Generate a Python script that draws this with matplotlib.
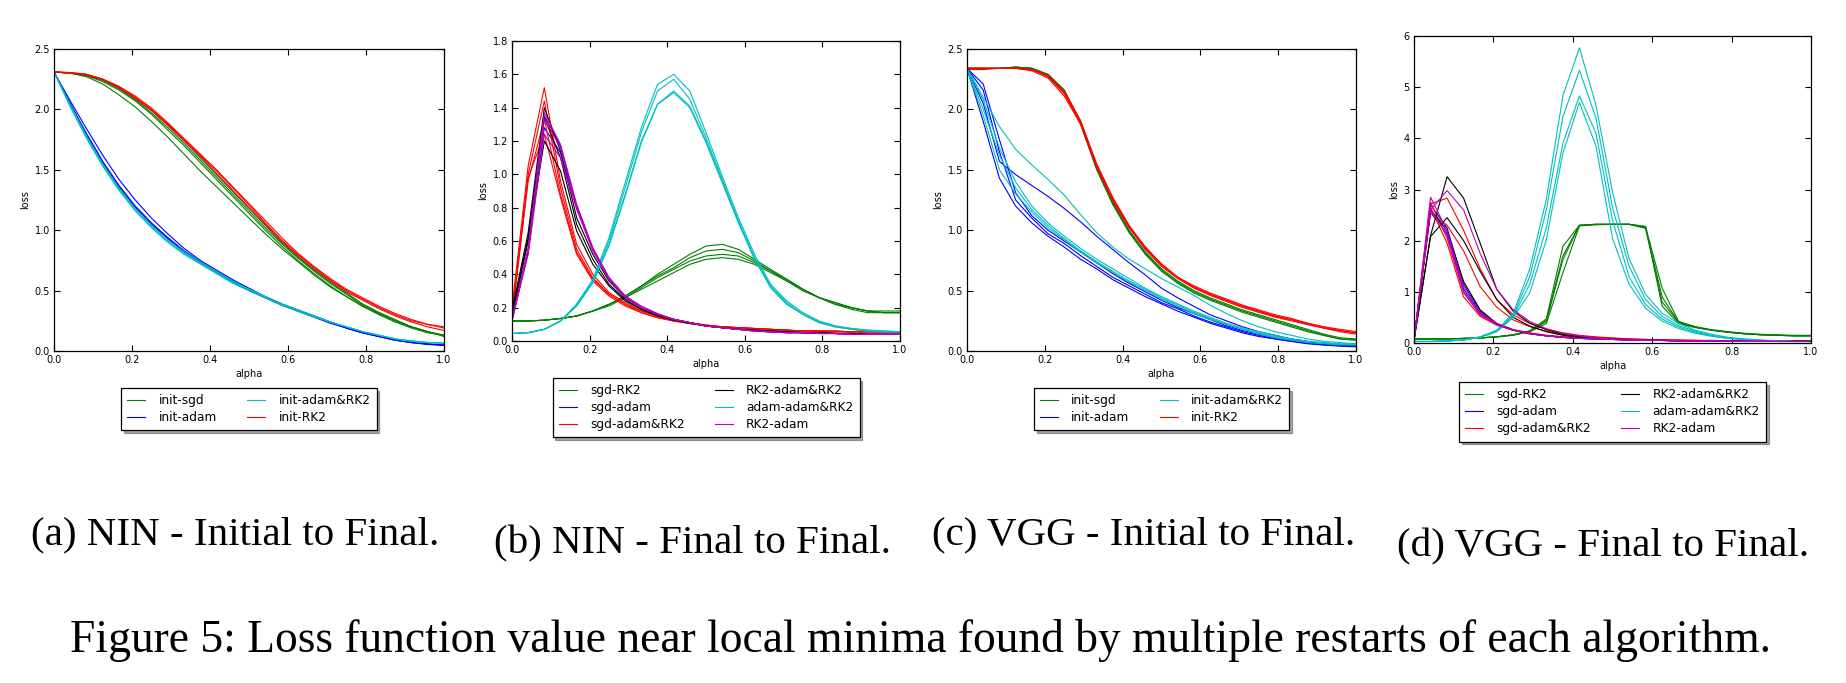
import numpy as np
import matplotlib
matplotlib.use("Agg")
import matplotlib.pyplot as plt
from matplotlib.ticker import FormatStrFormatter

# alpha grid (25 evaluation points between the two solutions)
alpha = np.linspace(0, 1, 25)

# ---- (a) NIN - initial to final ----
a_sgd = [
    [2.31, 2.30, 2.27, 2.21, 2.12, 2.02, 1.90, 1.77, 1.63, 1.49, 1.36, 1.23, 1.10, 0.97, 0.85, 0.74, 0.63, 0.53, 0.45, 0.37, 0.30, 0.24, 0.19, 0.15, 0.13],
    [2.31, 2.30, 2.28, 2.23, 2.16, 2.07, 1.96, 1.83, 1.70, 1.56, 1.42, 1.28, 1.14, 1.00, 0.87, 0.75, 0.64, 0.54, 0.45, 0.37, 0.31, 0.25, 0.20, 0.16, 0.13],
    [2.31, 2.30, 2.28, 2.24, 2.17, 2.08, 1.97, 1.85, 1.72, 1.58, 1.44, 1.30, 1.16, 1.02, 0.89, 0.77, 0.66, 0.56, 0.47, 0.38, 0.31, 0.25, 0.20, 0.16, 0.13],
    [2.31, 2.30, 2.29, 2.25, 2.18, 2.09, 1.99, 1.87, 1.74, 1.60, 1.46, 1.32, 1.18, 1.04, 0.90, 0.78, 0.67, 0.57, 0.48, 0.39, 0.32, 0.26, 0.20, 0.16, 0.12],
]
a_adam = [
    [2.31, 2.05, 1.80, 1.57, 1.37, 1.20, 1.06, 0.94, 0.83, 0.74, 0.66, 0.58, 0.51, 0.45, 0.39, 0.34, 0.29, 0.24, 0.19, 0.15, 0.12, 0.09, 0.07, 0.055, 0.05],
    [2.31, 2.07, 1.84, 1.62, 1.42, 1.25, 1.10, 0.97, 0.85, 0.75, 0.67, 0.59, 0.52, 0.45, 0.39, 0.34, 0.29, 0.24, 0.19, 0.15, 0.12, 0.09, 0.07, 0.06, 0.05],
    [2.31, 2.04, 1.79, 1.56, 1.36, 1.19, 1.05, 0.93, 0.82, 0.73, 0.65, 0.57, 0.50, 0.44, 0.38, 0.33, 0.28, 0.23, 0.19, 0.15, 0.12, 0.09, 0.07, 0.055, 0.045],
]
a_adam_rk2 = [
    [2.31, 2.03, 1.77, 1.54, 1.34, 1.17, 1.03, 0.91, 0.81, 0.73, 0.65, 0.57, 0.51, 0.45, 0.39, 0.34, 0.29, 0.24, 0.20, 0.16, 0.13, 0.10, 0.08, 0.07, 0.065],
    [2.31, 2.02, 1.76, 1.53, 1.33, 1.16, 1.02, 0.90, 0.80, 0.72, 0.64, 0.56, 0.50, 0.44, 0.38, 0.33, 0.28, 0.24, 0.20, 0.16, 0.13, 0.10, 0.08, 0.07, 0.065],
    [2.31, 2.04, 1.78, 1.55, 1.35, 1.18, 1.04, 0.92, 0.82, 0.74, 0.66, 0.58, 0.51, 0.45, 0.39, 0.34, 0.29, 0.24, 0.20, 0.16, 0.13, 0.10, 0.085, 0.07, 0.065],
]
a_rk2 = [
    [2.31, 2.305, 2.29, 2.25, 2.19, 2.10, 2.00, 1.88, 1.75, 1.62, 1.49, 1.35, 1.21, 1.06, 0.92, 0.80, 0.69, 0.59, 0.50, 0.43, 0.36, 0.30, 0.25, 0.22, 0.19],
    [2.31, 2.30, 2.285, 2.245, 2.18, 2.09, 1.99, 1.87, 1.74, 1.61, 1.47, 1.33, 1.19, 1.05, 0.91, 0.79, 0.68, 0.58, 0.49, 0.42, 0.35, 0.29, 0.24, 0.20, 0.17],
    [2.31, 2.305, 2.29, 2.25, 2.19, 2.11, 2.01, 1.89, 1.76, 1.63, 1.50, 1.36, 1.22, 1.08, 0.94, 0.81, 0.70, 0.60, 0.51, 0.44, 0.37, 0.31, 0.26, 0.22, 0.20],
]

# ---- (b) NIN - final to final ----
b_sgd_rk2 = [
    [0.12, 0.12, 0.125, 0.135, 0.15, 0.18, 0.22, 0.27, 0.33, 0.40, 0.46, 0.52, 0.57, 0.58, 0.55, 0.49, 0.43, 0.37, 0.31, 0.26, 0.23, 0.20, 0.18, 0.18, 0.18],
    [0.12, 0.12, 0.125, 0.135, 0.15, 0.18, 0.22, 0.27, 0.33, 0.39, 0.44, 0.50, 0.54, 0.55, 0.53, 0.48, 0.42, 0.37, 0.31, 0.26, 0.23, 0.20, 0.18, 0.17, 0.17],
    [0.12, 0.12, 0.125, 0.135, 0.15, 0.18, 0.22, 0.26, 0.32, 0.38, 0.43, 0.48, 0.51, 0.52, 0.51, 0.47, 0.42, 0.36, 0.31, 0.26, 0.22, 0.20, 0.18, 0.17, 0.17],
    [0.12, 0.12, 0.125, 0.135, 0.15, 0.18, 0.21, 0.26, 0.31, 0.36, 0.41, 0.46, 0.49, 0.50, 0.49, 0.46, 0.41, 0.36, 0.30, 0.26, 0.22, 0.19, 0.17, 0.17, 0.17],
]
b_sgd_adam = [
    [0.13, 0.55, 1.35, 1.17, 0.81, 0.55, 0.38, 0.27, 0.20, 0.16, 0.13, 0.11, 0.09, 0.08, 0.07, 0.06, 0.055, 0.05, 0.05, 0.045, 0.045, 0.04, 0.04, 0.04, 0.04],
    [0.12, 0.53, 1.28, 1.13, 0.80, 0.55, 0.37, 0.27, 0.20, 0.16, 0.13, 0.11, 0.09, 0.08, 0.07, 0.06, 0.055, 0.05, 0.05, 0.045, 0.045, 0.04, 0.04, 0.04, 0.04],
]
b_sgd_adam_rk2 = [
    [0.20, 1.05, 1.52, 0.96, 0.58, 0.40, 0.29, 0.23, 0.18, 0.15, 0.125, 0.11, 0.095, 0.085, 0.08, 0.075, 0.07, 0.065, 0.06, 0.06, 0.055, 0.055, 0.055, 0.055, 0.055],
    [0.17, 1.00, 1.44, 0.92, 0.55, 0.38, 0.28, 0.22, 0.18, 0.15, 0.125, 0.11, 0.095, 0.085, 0.08, 0.075, 0.07, 0.065, 0.06, 0.06, 0.055, 0.055, 0.055, 0.055, 0.055],
    [0.15, 0.96, 1.33, 0.88, 0.53, 0.37, 0.28, 0.22, 0.17, 0.14, 0.12, 0.105, 0.095, 0.085, 0.08, 0.075, 0.07, 0.065, 0.06, 0.06, 0.06, 0.055, 0.055, 0.055, 0.055],
    [0.14, 0.98, 1.24, 0.86, 0.52, 0.36, 0.27, 0.21, 0.17, 0.14, 0.12, 0.105, 0.095, 0.085, 0.08, 0.075, 0.07, 0.065, 0.06, 0.06, 0.06, 0.055, 0.055, 0.055, 0.055],
]
b_rk2_adam_rk2 = [
    [0.18, 0.65, 1.40, 1.14, 0.74, 0.52, 0.36, 0.26, 0.20, 0.16, 0.13, 0.11, 0.09, 0.08, 0.07, 0.065, 0.06, 0.055, 0.05, 0.05, 0.045, 0.045, 0.04, 0.04, 0.04],
    [0.16, 0.62, 1.34, 1.10, 0.70, 0.49, 0.34, 0.25, 0.19, 0.155, 0.13, 0.11, 0.09, 0.08, 0.07, 0.065, 0.06, 0.055, 0.05, 0.05, 0.045, 0.045, 0.04, 0.04, 0.04],
    [0.15, 0.60, 1.20, 1.02, 0.66, 0.46, 0.33, 0.24, 0.19, 0.15, 0.125, 0.105, 0.09, 0.08, 0.07, 0.065, 0.06, 0.055, 0.05, 0.05, 0.045, 0.045, 0.04, 0.04, 0.04],
]
b_adam_adam_rk2 = [
    [0.045, 0.05, 0.07, 0.12, 0.22, 0.37, 0.62, 0.95, 1.28, 1.54, 1.60, 1.50, 1.25, 0.99, 0.74, 0.52, 0.34, 0.24, 0.17, 0.12, 0.09, 0.075, 0.065, 0.06, 0.055],
    [0.045, 0.05, 0.07, 0.12, 0.22, 0.36, 0.60, 0.92, 1.25, 1.50, 1.57, 1.45, 1.22, 0.97, 0.72, 0.50, 0.33, 0.23, 0.16, 0.115, 0.09, 0.075, 0.065, 0.06, 0.055],
    [0.045, 0.05, 0.07, 0.12, 0.21, 0.35, 0.58, 0.88, 1.20, 1.42, 1.49, 1.40, 1.19, 0.95, 0.71, 0.49, 0.32, 0.22, 0.16, 0.11, 0.085, 0.07, 0.06, 0.055, 0.055],
    [0.045, 0.05, 0.07, 0.12, 0.21, 0.35, 0.57, 0.87, 1.19, 1.42, 1.50, 1.41, 1.20, 0.96, 0.72, 0.50, 0.32, 0.22, 0.16, 0.11, 0.085, 0.07, 0.06, 0.055, 0.055],
]
b_rk2_adam = [
    [0.13, 0.56, 1.37, 1.18, 0.82, 0.56, 0.38, 0.27, 0.21, 0.165, 0.13, 0.11, 0.09, 0.08, 0.07, 0.06, 0.055, 0.05, 0.05, 0.045, 0.045, 0.04, 0.04, 0.04, 0.04],
    [0.12, 0.54, 1.33, 1.16, 0.80, 0.55, 0.37, 0.27, 0.20, 0.16, 0.13, 0.11, 0.09, 0.08, 0.07, 0.06, 0.055, 0.05, 0.05, 0.045, 0.045, 0.04, 0.04, 0.04, 0.04],
    [0.14, 0.52, 1.24, 1.10, 0.79, 0.54, 0.37, 0.26, 0.20, 0.16, 0.13, 0.11, 0.09, 0.08, 0.07, 0.06, 0.055, 0.05, 0.05, 0.045, 0.045, 0.04, 0.04, 0.04, 0.04],
]

# ---- (c) VGG - initial to final ----
c_sgd = [
    [2.34, 2.34, 2.34, 2.35, 2.34, 2.29, 2.16, 1.90, 1.52, 1.22, 0.99, 0.81, 0.67, 0.57, 0.49, 0.43, 0.38, 0.33, 0.29, 0.25, 0.21, 0.17, 0.13, 0.10, 0.09],
    [2.34, 2.34, 2.34, 2.35, 2.34, 2.28, 2.15, 1.88, 1.50, 1.21, 0.98, 0.80, 0.66, 0.56, 0.48, 0.42, 0.37, 0.32, 0.28, 0.24, 0.20, 0.16, 0.13, 0.10, 0.09],
    [2.34, 2.34, 2.34, 2.35, 2.34, 2.29, 2.16, 1.89, 1.51, 1.23, 1.00, 0.82, 0.68, 0.58, 0.50, 0.44, 0.39, 0.34, 0.30, 0.26, 0.22, 0.18, 0.14, 0.11, 0.10],
]
c_adam = [
    [2.34, 2.05, 1.57, 1.46, 1.37, 1.28, 1.18, 1.07, 0.95, 0.84, 0.73, 0.63, 0.52, 0.44, 0.37, 0.30, 0.25, 0.20, 0.16, 0.13, 0.10, 0.08, 0.06, 0.05, 0.045],
    [2.34, 2.21, 1.75, 1.31, 1.12, 1.00, 0.91, 0.82, 0.73, 0.64, 0.56, 0.49, 0.42, 0.36, 0.31, 0.26, 0.21, 0.17, 0.14, 0.11, 0.09, 0.07, 0.055, 0.045, 0.04],
    [2.34, 1.90, 1.43, 1.20, 1.06, 0.95, 0.86, 0.76, 0.68, 0.59, 0.52, 0.45, 0.39, 0.33, 0.28, 0.23, 0.19, 0.15, 0.12, 0.10, 0.08, 0.06, 0.05, 0.04, 0.035],
    [2.34, 2.16, 1.65, 1.25, 1.10, 0.97, 0.89, 0.79, 0.70, 0.61, 0.54, 0.47, 0.40, 0.35, 0.29, 0.24, 0.20, 0.16, 0.13, 0.10, 0.08, 0.065, 0.05, 0.045, 0.04],
]
c_adam_rk2 = [
    [2.34, 2.10, 1.86, 1.67, 1.54, 1.42, 1.29, 1.13, 0.98, 0.86, 0.76, 0.68, 0.60, 0.53, 0.46, 0.38, 0.31, 0.25, 0.20, 0.16, 0.13, 0.10, 0.08, 0.07, 0.06],
    [2.34, 2.08, 1.68, 1.40, 1.20, 1.06, 0.95, 0.85, 0.76, 0.68, 0.60, 0.52, 0.45, 0.39, 0.33, 0.28, 0.23, 0.19, 0.16, 0.13, 0.10, 0.08, 0.07, 0.06, 0.06],
    [2.34, 1.95, 1.50, 1.30, 1.15, 1.02, 0.92, 0.82, 0.73, 0.65, 0.57, 0.50, 0.43, 0.37, 0.31, 0.26, 0.22, 0.18, 0.14, 0.11, 0.09, 0.07, 0.06, 0.05, 0.05],
    [2.34, 2.00, 1.62, 1.35, 1.17, 1.04, 0.93, 0.83, 0.74, 0.66, 0.58, 0.51, 0.44, 0.38, 0.32, 0.27, 0.22, 0.18, 0.15, 0.12, 0.10, 0.08, 0.065, 0.055, 0.05],
]
c_rk2 = [
    [2.34, 2.34, 2.34, 2.34, 2.33, 2.27, 2.13, 1.89, 1.53, 1.25, 1.03, 0.85, 0.71, 0.61, 0.53, 0.47, 0.42, 0.37, 0.33, 0.29, 0.26, 0.23, 0.20, 0.18, 0.16],
    [2.33, 2.33, 2.34, 2.34, 2.33, 2.28, 2.15, 1.91, 1.55, 1.27, 1.04, 0.86, 0.72, 0.61, 0.53, 0.47, 0.42, 0.37, 0.33, 0.29, 0.26, 0.22, 0.19, 0.17, 0.15],
    [2.34, 2.34, 2.34, 2.34, 2.32, 2.26, 2.11, 1.88, 1.52, 1.24, 1.02, 0.84, 0.70, 0.60, 0.52, 0.46, 0.41, 0.36, 0.32, 0.28, 0.25, 0.22, 0.19, 0.16, 0.14],
    [2.34, 2.34, 2.34, 2.34, 2.33, 2.28, 2.14, 1.90, 1.54, 1.26, 1.03, 0.86, 0.72, 0.61, 0.54, 0.48, 0.43, 0.38, 0.34, 0.30, 0.27, 0.23, 0.20, 0.17, 0.15],
]

# ---- (d) VGG - final to final ----
d_sgd_rk2 = [
    [0.08, 0.08, 0.08, 0.09, 0.10, 0.12, 0.16, 0.24, 0.47, 1.89, 2.30, 2.32, 2.32, 2.32, 2.27, 1.07, 0.42, 0.32, 0.26, 0.22, 0.19, 0.17, 0.16, 0.15, 0.15],
    [0.08, 0.08, 0.08, 0.09, 0.10, 0.12, 0.16, 0.23, 0.42, 1.63, 2.30, 2.32, 2.32, 2.32, 2.25, 0.90, 0.40, 0.31, 0.25, 0.21, 0.18, 0.16, 0.15, 0.14, 0.14],
    [0.08, 0.08, 0.08, 0.09, 0.10, 0.12, 0.15, 0.22, 0.38, 1.37, 2.29, 2.31, 2.32, 2.32, 2.28, 0.72, 0.38, 0.30, 0.25, 0.21, 0.18, 0.16, 0.15, 0.14, 0.14],
    [0.08, 0.08, 0.08, 0.09, 0.10, 0.12, 0.16, 0.23, 0.44, 1.70, 2.30, 2.32, 2.32, 2.32, 2.24, 0.80, 0.41, 0.31, 0.25, 0.21, 0.18, 0.16, 0.15, 0.14, 0.14],
]
d_sgd_adam = [
    [0.05, 2.55, 2.15, 1.05, 0.58, 0.36, 0.25, 0.18, 0.14, 0.11, 0.09, 0.08, 0.07, 0.06, 0.05, 0.05, 0.04, 0.04, 0.04, 0.035, 0.035, 0.035, 0.03, 0.03, 0.03],
    [0.05, 2.70, 2.25, 1.15, 0.62, 0.38, 0.26, 0.19, 0.14, 0.11, 0.09, 0.08, 0.07, 0.06, 0.05, 0.05, 0.04, 0.04, 0.04, 0.035, 0.035, 0.035, 0.03, 0.03, 0.03],
]
d_sgd_adam_rk2 = [
    [0.05, 2.72, 2.83, 2.20, 1.45, 0.85, 0.55, 0.38, 0.27, 0.20, 0.15, 0.12, 0.10, 0.08, 0.07, 0.06, 0.055, 0.05, 0.05, 0.045, 0.045, 0.04, 0.04, 0.04, 0.04],
    [0.05, 2.55, 2.30, 1.80, 1.10, 0.70, 0.45, 0.32, 0.23, 0.17, 0.13, 0.11, 0.09, 0.08, 0.07, 0.06, 0.055, 0.05, 0.05, 0.045, 0.045, 0.04, 0.04, 0.04, 0.04],
    [0.05, 2.65, 1.95, 0.90, 0.52, 0.35, 0.25, 0.19, 0.15, 0.12, 0.10, 0.09, 0.08, 0.07, 0.06, 0.055, 0.05, 0.05, 0.045, 0.045, 0.04, 0.04, 0.04, 0.04, 0.04],
    [0.05, 2.75, 2.05, 0.98, 0.56, 0.37, 0.26, 0.20, 0.15, 0.12, 0.10, 0.09, 0.08, 0.07, 0.06, 0.055, 0.05, 0.05, 0.045, 0.045, 0.04, 0.04, 0.04, 0.04, 0.04],
]
d_rk2_adam_rk2 = [
    [0.05, 2.10, 3.25, 2.83, 1.95, 1.05, 0.62, 0.39, 0.26, 0.17, 0.12, 0.09, 0.08, 0.07, 0.06, 0.05, 0.05, 0.045, 0.04, 0.04, 0.04, 0.035, 0.035, 0.035, 0.035],
    [0.05, 2.08, 2.45, 2.00, 1.40, 0.85, 0.50, 0.33, 0.22, 0.15, 0.11, 0.09, 0.07, 0.06, 0.05, 0.05, 0.045, 0.04, 0.04, 0.04, 0.035, 0.035, 0.035, 0.035, 0.035],
    [0.05, 2.60, 2.20, 1.20, 0.65, 0.38, 0.25, 0.18, 0.14, 0.11, 0.09, 0.08, 0.07, 0.06, 0.05, 0.05, 0.045, 0.04, 0.04, 0.04, 0.035, 0.035, 0.035, 0.035, 0.035],
]
d_adam_adam_rk2 = [
    [0.03, 0.03, 0.04, 0.06, 0.12, 0.25, 0.58, 1.45, 2.81, 4.83, 5.77, 4.65, 2.95, 1.65, 0.95, 0.58, 0.38, 0.25, 0.17, 0.11, 0.08, 0.06, 0.04, 0.03, 0.03],
    [0.03, 0.03, 0.04, 0.06, 0.12, 0.24, 0.55, 1.30, 2.60, 4.42, 5.33, 4.40, 2.65, 1.50, 0.85, 0.52, 0.34, 0.23, 0.15, 0.10, 0.07, 0.05, 0.04, 0.03, 0.03],
    [0.03, 0.03, 0.04, 0.06, 0.11, 0.23, 0.52, 1.15, 2.25, 3.90, 4.83, 4.10, 2.40, 1.30, 0.75, 0.47, 0.31, 0.21, 0.14, 0.09, 0.07, 0.05, 0.04, 0.03, 0.03],
    [0.03, 0.03, 0.04, 0.06, 0.11, 0.22, 0.50, 0.98, 2.02, 3.71, 4.70, 3.85, 2.05, 1.15, 0.68, 0.43, 0.28, 0.19, 0.13, 0.09, 0.06, 0.05, 0.04, 0.03, 0.03],
]
d_rk2_adam = [
    [0.05, 2.60, 2.98, 2.60, 1.75, 1.05, 0.65, 0.42, 0.28, 0.19, 0.14, 0.10, 0.08, 0.07, 0.06, 0.05, 0.05, 0.04, 0.04, 0.04, 0.035, 0.035, 0.035, 0.03, 0.03],
    [0.05, 2.85, 2.20, 1.10, 0.60, 0.38, 0.26, 0.19, 0.14, 0.11, 0.09, 0.08, 0.07, 0.06, 0.05, 0.05, 0.04, 0.04, 0.04, 0.035, 0.035, 0.035, 0.03, 0.03, 0.03],
    [0.05, 2.62, 2.10, 1.00, 0.55, 0.35, 0.25, 0.18, 0.14, 0.11, 0.09, 0.08, 0.07, 0.06, 0.05, 0.05, 0.04, 0.04, 0.04, 0.035, 0.035, 0.035, 0.03, 0.03, 0.03],
]

init_labels = ['init-sgd', 'init-adam', 'init-adam&RK2', 'init-RK2']
final_labels = ['sgd-RK2', 'sgd-adam', 'sgd-adam&RK2', 'RK2-adam&RK2', 'adam-adam&RK2', 'RK2-adam']
init_colors = ['g', 'b', 'c', 'r']
final_colors = ['g', 'b', 'r', 'k', 'c', 'm']

subcaptions = ['(a) NIN - Initial to Final.', '(b) NIN - Final to Final.',
               '(c) VGG - Initial to Final.', '(d) VGG - Final to Final.']
caption = 'Figure 5: Loss function value near local minima found by multiple restarts of each algorithm.'

W, H = 1846, 683
fig = plt.figure(figsize=(W / 100, H / 100), dpi=100)


def make_axes(x0, y0, x1, y1):
    # pixel box -> figure fraction
    return fig.add_axes([x0 / W, 1 - y1 / H, (x1 - x0) / W, (y1 - y0) / H])


def draw(ax, groups, labels, colors, ymax, ystep, yfmt):
    for runs, lab, col in zip(groups, labels, colors):
        for i, r in enumerate(runs):
            ax.plot(alpha, r, color=col, lw=0.8, label=lab if i == 0 else None)
    ax.set_xlim(0, 1)
    ax.set_ylim(0, ymax)
    ax.set_xticks(np.arange(0, 1.01, 0.2))
    ax.set_yticks(np.arange(0, ymax + 1e-9, ystep))
    ax.xaxis.set_major_formatter(FormatStrFormatter('%.1f'))
    ax.yaxis.set_major_formatter(FormatStrFormatter(yfmt))
    ax.tick_params(direction='in', top=True, right=True, length=4, width=0.8,
                   labelsize=7, pad=3)
    for s in ax.spines.values():
        s.set_linewidth(0.9)
    ax.set_xlabel('alpha', fontsize=7, labelpad=3)
    ax.set_ylabel('loss', fontsize=7, labelpad=3)


axa = make_axes(54, 49, 444, 351)
draw(axa, [a_sgd, a_adam, a_adam_rk2, a_rk2], init_labels, init_colors, 2.5, 0.5, '%.1f')

axb = make_axes(512, 41, 900, 341)
draw(axb, [b_sgd_rk2, b_sgd_adam, b_sgd_adam_rk2, b_rk2_adam_rk2, b_adam_adam_rk2, b_rk2_adam],
     final_labels, final_colors, 1.8, 0.2, '%.1f')

axc = make_axes(967, 49, 1356, 351)
draw(axc, [c_sgd, c_adam, c_adam_rk2, c_rk2], init_labels, init_colors, 2.5, 0.5, '%.1f')

axd = make_axes(1414, 36, 1811, 343)
draw(axd, [d_sgd_rk2, d_sgd_adam, d_sgd_adam_rk2, d_rk2_adam_rk2, d_adam_adam_rk2, d_rk2_adam],
     final_labels, final_colors, 6, 1, '%d')

for ax, off in [(axa, 0.122), (axb, 0.123), (axc, 0.122), (axd, 0.127)]:
    leg = ax.legend(loc='upper center', bbox_to_anchor=(0.5, -off), ncol=2,
                    fontsize=8.7, frameon=True, fancybox=False, shadow=True,
                    handlelength=1.5, handletextpad=1.1, columnspacing=2.5,
                    labelspacing=0.35, borderpad=0.5, borderaxespad=0)
    leg.get_frame().set_edgecolor('black')
    leg.get_frame().set_linewidth(0.9)

serif = ['Liberation Serif', 'DejaVu Serif']
for txt, cx, cy in zip(subcaptions, [235, 692, 1144, 1603], [535, 544, 535, 547]):
    fig.text(cx / W, 1 - cy / H, txt, ha='center', va='center', fontsize=29.5, family=serif)
fig.text(920 / W, 1 - 640 / H, caption, ha='center', va='center', fontsize=32.8, family=serif)

fig.savefig('out.png', dpi=100)
